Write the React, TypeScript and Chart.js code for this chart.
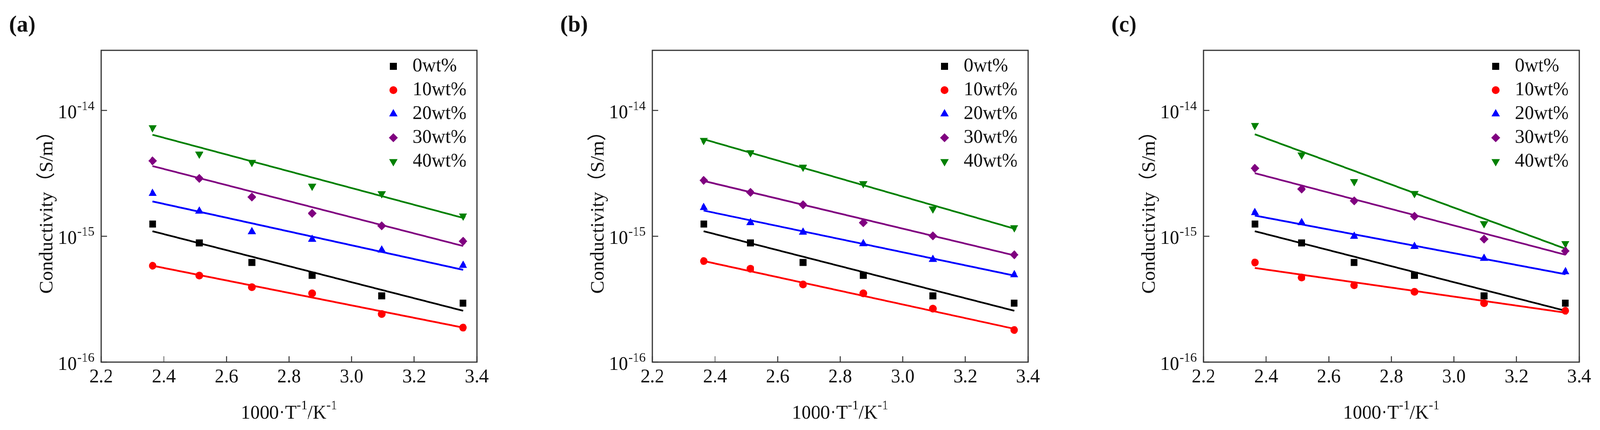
import React, { useEffect, useRef, useState } from 'react';
import { Chart, registerables } from 'chart.js';
import { drawPoint } from 'chart.js/helpers';

Chart.register(...registerables);

const FONT = "'Liberation Serif', 'Times New Roman', 'Noto Sans CJK SC', serif";

// ---- data ----
const inverseTemperature = [2.364, 2.513, 2.681, 2.874, 3.096, 3.356];
const fitRange = [2.364, 3.356];
const seriesLabels = ['0wt%', '10wt%', '20wt%', '30wt%', '40wt%'];
const panelLabels = ['(a)', '(b)', '(c)'];
const yTickValues = [1e-16, 1e-15, 1e-14];
const yTickExponents = ['-16', '-15', '-14'];

// panel (a)
const a0wt = [1.25e-15, 8.85e-16, 6.19e-16, 4.89e-16, 3.36e-16, 2.94e-16];
const a10wt = [5.83e-16, 4.87e-16, 3.94e-16, 3.52e-16, 2.41e-16, 1.88e-16];
const a20wt = [2.19e-15, 1.58e-15, 1.086e-15, 9.44e-16, 7.76e-16, 5.86e-16];
const a30wt = [3.97e-15, 2.88e-15, 2.05e-15, 1.52e-15, 1.21e-15, 9.12e-16];
const a40wt = [7.29e-15, 4.5e-15, 3.87e-15, 2.5e-15, 2.18e-15, 1.45e-15];
const aFit0wt = [1.096e-15, 2.56e-16];
const aFit10wt = [5.83e-16, 1.88e-16];
const aFit20wt = [1.89e-15, 5.41e-16];
const aFit30wt = [3.61e-15, 8.37e-16];
const aFit40wt = [6.4e-15, 1.4e-15];

// panel (b)
const b0wt = [1.25e-15, 8.85e-16, 6.19e-16, 4.89e-16, 3.36e-16, 2.94e-16];
const b10wt = [6.35e-16, 5.52e-16, 4.14e-16, 3.52e-16, 2.66e-16, 1.8e-16];
const b20wt = [1.69e-15, 1.28e-15, 1.076e-15, 8.71e-16, 6.54e-16, 4.94e-16];
const b30wt = [2.78e-15, 2.23e-15, 1.78e-15, 1.28e-15, 1.007e-15, 7.12e-16];
const b40wt = [5.78e-15, 4.61e-15, 3.54e-15, 2.62e-15, 1.65e-15, 1.17e-15];
const bFit0wt = [1.096e-15, 2.56e-16];
const bFit10wt = [6.35e-16, 1.84e-16];
const bFit20wt = [1.6e-15, 4.87e-16];
const bFit30wt = [2.75e-15, 7.05e-16];
const bFit40wt = [5.9e-15, 1.15e-15];

// panel (c)
const c0wt = [1.25e-15, 8.85e-16, 6.19e-16, 4.89e-16, 3.36e-16, 2.94e-16];
const c10wt = [6.19e-16, 4.7e-16, 4.08e-16, 3.62e-16, 2.94e-16, 2.56e-16];
const c20wt = [1.54e-15, 1.28e-15, 9.97e-16, 8.29e-16, 6.67e-16, 5.22e-16];
const c30wt = [3.47e-15, 2.37e-15, 1.91e-15, 1.44e-15, 9.49e-16, 7.64e-16];
const c40wt = [7.59e-15, 4.43e-15, 2.72e-15, 2.19e-15, 1.26e-15, 8.75e-16];
const cFit0wt = [1.096e-15, 2.56e-16];
const cFit10wt = [5.6e-16, 2.47e-16];
const cFit20wt = [1.46e-15, 4.99e-16];
const cFit30wt = [3.17e-15, 7.13e-16];
const cFit40wt = [6.46e-15, 7.96e-16];

const panelPoints = [
  [a0wt, a10wt, a20wt, a30wt, a40wt],
  [b0wt, b10wt, b20wt, b30wt, b40wt],
  [c0wt, c10wt, c20wt, c30wt, c40wt],
];
const panelFits = [
  [aFit0wt, aFit10wt, aFit20wt, aFit30wt, aFit40wt],
  [bFit0wt, bFit10wt, bFit20wt, bFit30wt, bFit40wt],
  [cFit0wt, cFit10wt, cFit20wt, cFit30wt, cFit40wt],
];

// ---- styles ----
const colors = ['#000000', '#ff0000', '#0000ff', '#800080', '#008000'];
const markerStyles = [
  { pointStyle: 'rect', radius: 12.7, rotation: 0 },
  { pointStyle: 'circle', radius: 10, rotation: 0 },
  { pointStyle: 'triangle', radius: 12.5, rotation: 0 },
  { pointStyle: 'rectRot', radius: 11.5, rotation: 0 },
  { pointStyle: 'triangle', radius: 12.5, rotation: 180 },
];

const PAGE_W = 4218;
const PAGE_H = 1102;
const W = 1300;
const H = 1102;
const PLOT_LEFT = 267;
const PLOT_TOP = 129;
const PLOT_RIGHT_PAD = W - 1257;
const X_AXIS_H = H - 928;
const panelCanvasLeft = [0, 1453, 2906];
const TEXT = '#111111';

function makeDecorPlugin(panelIndex: number) {
  return {
    id: 'decor' + panelIndex,
    afterDraw(chart: any) {
      const ctx = chart.ctx as CanvasRenderingContext2D;
      const area = chart.chartArea;
      const xs = chart.scales.x;
      const ys = chart.scales.y;
      ctx.save();

      // frame
      ctx.strokeStyle = '#333333';
      ctx.lineWidth = 3;
      ctx.strokeRect(area.left, area.top, area.right - area.left, area.bottom - area.top);

      // inward ticks
      ctx.lineWidth = 2.5;
      ctx.beginPath();
      xs.ticks.forEach((t: any) => {
        const px = xs.getPixelForValue(t.value);
        ctx.moveTo(px, area.bottom);
        ctx.lineTo(px, area.bottom - 15);
      });
      yTickValues.forEach((v) => {
        const py = ys.getPixelForValue(v);
        ctx.moveTo(area.left, py);
        ctx.lineTo(area.left + 15, py);
      });
      ctx.stroke();

      ctx.fillStyle = TEXT;
      // y tick labels with superscripts
      yTickValues.forEach((v, i) => {
        const py = ys.getPixelForValue(v);
        const expRight = area.left - 18;
        ctx.font = `34px ${FONT}`;
        ctx.textAlign = 'right';
        ctx.textBaseline = 'alphabetic';
        const ew = ctx.measureText(yTickExponents[i]).width;
        ctx.fillText(yTickExponents[i], expRight, py - 1);
        ctx.font = `50px ${FONT}`;
        ctx.fillText('10', expRight - ew - 1, py + 20);
      });

      // x title with superscripts
      const parts = [
        { t: '1000·T', s: 50, dy: 0 },
        { t: '-1', s: 34, dy: -24 },
        { t: '/K', s: 50, dy: 0 },
        { t: '-1', s: 34, dy: -24 },
      ];
      let total = 0;
      parts.forEach((p) => {
        ctx.font = `${p.s}px ${FONT}`;
        total += ctx.measureText(p.t).width;
      });
      let cx = (area.left + area.right) / 2 - total / 2;
      ctx.textAlign = 'left';
      ctx.textBaseline = 'alphabetic';
      parts.forEach((p) => {
        ctx.font = `${p.s}px ${FONT}`;
        ctx.fillText(p.t, cx, 1073 + p.dy);
        cx += ctx.measureText(p.t).width;
      });

      // y title
      ctx.save();
      ctx.translate(125, 532);
      ctx.rotate(-Math.PI / 2);
      ctx.font = `50px ${FONT}`;
      ctx.textAlign = 'center';
      ctx.textBaseline = 'middle';
      ctx.fillText('Conductivity（S/m）', 0, 0);
      ctx.restore();

      // panel label
      ctx.font = `bold 60px ${FONT}`;
      ctx.textAlign = 'left';
      ctx.textBaseline = 'alphabetic';
      ctx.fillText(panelLabels[panelIndex], area.left - 243, 81);

      // legend
      seriesLabels.forEach((label, i) => {
        const ly = 170 + 61 * i;
        const m = markerStyles[i];
        ctx.fillStyle = colors[i];
        ctx.strokeStyle = colors[i];
        drawPoint(ctx, { pointStyle: m.pointStyle as any, radius: m.radius, rotation: m.rotation, borderWidth: 0 }, area.left + 770, ly);
        ctx.fillStyle = TEXT;
        ctx.font = `50px ${FONT}`;
        ctx.textAlign = 'left';
        ctx.textBaseline = 'middle';
        ctx.fillText(label, area.left + 821, ly);
      });

      ctx.restore();
    },
  };
}

function buildConfig(panelIndex: number): any {
  const pointSets = panelPoints[panelIndex].map((vals, i) => ({
    label: seriesLabels[i],
    data: inverseTemperature.map((x, j) => ({ x, y: vals[j] })),
    showLine: false,
    pointStyle: markerStyles[i].pointStyle,
    pointRadius: markerStyles[i].radius,
    pointRotation: markerStyles[i].rotation,
    pointBackgroundColor: colors[i],
    pointBorderColor: colors[i],
    pointBorderWidth: 0,
    backgroundColor: colors[i],
    borderColor: colors[i],
  }));
  const lineSets = panelFits[panelIndex].map((vals, i) => ({
    label: seriesLabels[i] + ' fit',
    data: fitRange.map((x, j) => ({ x, y: vals[j] })),
    showLine: true,
    pointRadius: 0,
    borderColor: colors[i],
    borderWidth: 4.5,
    fill: false,
  }));
  return {
    type: 'scatter',
    data: { datasets: [...pointSets, ...lineSets] },
    options: {
      animation: false,
      responsive: false,
      devicePixelRatio: 1,
      events: [],
      layout: { padding: { left: 0, top: PLOT_TOP, right: PLOT_RIGHT_PAD, bottom: 0 } },
      plugins: {
        legend: { display: false },
        tooltip: { enabled: false },
        title: { display: false },
      },
      scales: {
        x: {
          type: 'linear',
          min: 2.2,
          max: 3.4,
          grid: { display: false, drawTicks: false },
          border: { display: false },
          ticks: {
            stepSize: 0.2,
            padding: 9,
            color: TEXT,
            font: { family: FONT, size: 50 },
            callback: (v: number) => v.toFixed(1),
          },
          afterFit: (s: any) => {
            s.height = X_AXIS_H;
          },
        },
        y: {
          type: 'logarithmic',
          min: 1e-16,
          max: 3e-14,
          grid: { display: false, drawTicks: false },
          border: { display: false },
          ticks: { display: false },
          afterFit: (s: any) => {
            s.width = PLOT_LEFT;
          },
        },
      },
    },
    plugins: [makeDecorPlugin(panelIndex)],
  };
}

function Panel({ index }: { index: number }) {
  const ref = useRef<HTMLCanvasElement>(null);
  useEffect(() => {
    const chart = new Chart(ref.current as HTMLCanvasElement, buildConfig(index));
    return () => chart.destroy();
  }, [index]);
  return (
    <canvas
      ref={ref}
      width={W}
      height={H}
      style={{ position: 'absolute', left: panelCanvasLeft[index], top: 0, width: W, height: H }}
    />
  );
}

export default function App() {
  const [size] = useState(() => ({
    w: typeof window !== 'undefined' ? window.innerWidth : PAGE_W,
    h: typeof window !== 'undefined' ? window.innerHeight : PAGE_H,
  }));
  const sx = size.w > 0 ? size.w / PAGE_W : 1;
  const sy = size.h > 0 ? size.h / PAGE_H : 1;
  return (
    <div
      style={{
        position: 'fixed',
        left: 0,
        top: 0,
        width: PAGE_W,
        height: PAGE_H,
        overflow: 'hidden',
        background: '#ffffff',
        transform: `scale(${sx}, ${sy})`,
        transformOrigin: '0 0',
      }}
    >
      <Panel index={0} />
      <Panel index={1} />
      <Panel index={2} />
    </div>
  );
}
